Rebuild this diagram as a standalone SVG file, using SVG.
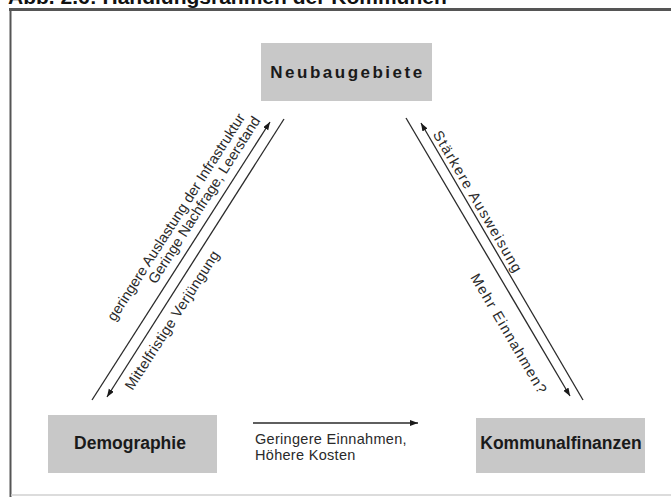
<svg xmlns="http://www.w3.org/2000/svg" width="671" height="497" viewBox="0 0 671 497">
<defs>
<style>
.box{fill:#c8c8c8;}
.lbl{font-family:"Liberation Sans",Arial,sans-serif;font-weight:bold;fill:#1a1a1a;text-anchor:middle;}
.edge{stroke:#2a2a2a;stroke-width:1.3;fill:none;marker-end:url(#ah);}
.t{font-family:"Liberation Sans",Arial,sans-serif;font-size:14.5px;fill:#2a2a2a;}
.c{text-anchor:middle;}
</style>
<marker id="ah" markerUnits="userSpaceOnUse" markerWidth="9" markerHeight="7" refX="8" refY="3" orient="auto">
<path d="M0,0 L8,3 L0,6 z" fill="#1a1a1a"/>
</marker>
</defs>
<rect width="671" height="497" fill="#ffffff"/>
<text x="8" y="4" font-family="Liberation Sans, Arial, sans-serif" font-size="21" font-weight="bold" fill="#111">Abb. 2.6: Handlungsrahmen der Kommunen</text>
<g id="frame">
<line x1="9" y1="9.5" x2="671" y2="9.5" stroke="#555" stroke-width="3"/>
<line x1="10.5" y1="8" x2="10.5" y2="497" stroke="#555" stroke-width="2"/>
<line x1="11" y1="495" x2="671" y2="495" stroke="#d0d0d0" stroke-width="1.5"/>
</g>
<g id="neubaugebiete">
<rect class="box" x="261" y="43" width="171" height="58"/>
<text class="lbl" x="347.5" y="78" font-size="17" letter-spacing="2.5">Neubaugebiete</text>
</g>
<g id="demographie">
<rect class="box" x="48" y="415" width="169" height="58"/>
<text class="lbl" x="130" y="449" font-size="17.5">Demographie</text>
</g>
<g id="kommunalfinanzen">
<rect class="box" x="476" y="418" width="169" height="55"/>
<text class="lbl" x="561" y="449" font-size="17.5">Kommunalfinanzen</text>
</g>
<g id="connectors">
<line class="edge" x1="92" y1="400" x2="270" y2="122"/>
<line class="edge" x1="284" y1="119" x2="107" y2="397"/>
<line class="edge" x1="406" y1="118" x2="570" y2="396"/>
<line class="edge" x1="583" y1="400" x2="421" y2="123"/>
<line class="edge" x1="253" y1="423" x2="418" y2="423"/>
<text class="t c" transform="translate(176,217) rotate(-57.4)" y="5">geringere Auslastung der Infrastruktur</text>
<text class="t c" transform="translate(204,200) rotate(-57.4)" y="5">Geringe Nachfrage, Leerstand</text>
<text class="t c" transform="translate(172,320) rotate(-57.4)" y="5" letter-spacing="0.3">Mittelfristige Verjüngung</text>
<text class="t c" transform="translate(478,202) rotate(59.6)" y="5" letter-spacing="1.4">Stärkere Ausweisung</text>
<text class="t c" transform="translate(509,334) rotate(59.6)" y="5" letter-spacing="1.25">Mehr Einnahmen?</text>
<text class="t" x="255" y="444" font-size="16" letter-spacing="0.3">Geringere Einnahmen,</text>
<text class="t" x="255" y="460" font-size="16" letter-spacing="0.3">Höhere Kosten</text>
</g>
</svg>
